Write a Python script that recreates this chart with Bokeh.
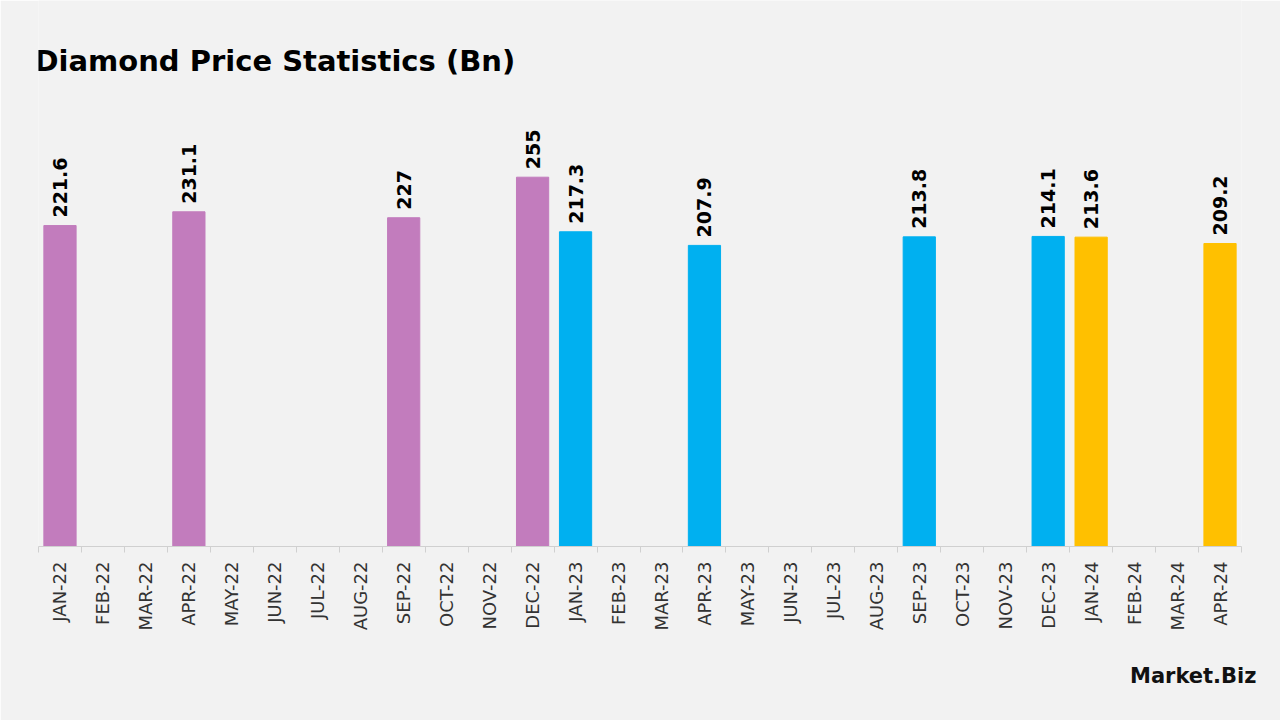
import math
from bokeh.plotting import figure
from bokeh.models import ColumnDataSource, FixedTicker, Range1d, Label, LabelSet, Title
from bokeh.core.properties import value
from bokeh.embed import file_html
from bokeh.resources import INLINE

months = ["JAN-22", "FEB-22", "MAR-22", "APR-22", "MAY-22", "JUN-22", "JUL-22", "AUG-22",
          "SEP-22", "OCT-22", "NOV-22", "DEC-22", "JAN-23", "FEB-23", "MAR-23", "APR-23",
          "MAY-23", "JUN-23", "JUL-23", "AUG-23", "SEP-23", "OCT-23", "NOV-23", "DEC-23",
          "JAN-24", "FEB-24", "MAR-24", "APR-24"]
bar_months = ["JAN-22", "APR-22", "SEP-22", "DEC-22", "JAN-23", "APR-23", "SEP-23",
              "DEC-23", "JAN-24", "APR-24"]
bar_values = [221.6, 231.1, 227, 255, 217.3, 207.9, 213.8, 214.1, 213.6, 209.2]
bar_years = ["2022", "2022", "2022", "2022", "2023", "2023", "2023", "2023", "2024", "2024"]
year_colors = {"2022": "#C27CBD", "2023": "#00B0F0", "2024": "#FFC000"}

BG = "#F2F2F2"

xs = [months.index(m) + 0.5 for m in bar_months]
src = ColumnDataSource(dict(
    x=xs,
    top=bar_values,
    color=[year_colors[y] for y in bar_years],
    label=[("%g" % v) for v in bar_values],
))

p = figure(width=1280, height=720, output_backend="svg", toolbar_location=None,
           x_range=Range1d(0, len(months)), y_range=Range1d(0, 377),
           min_border_left=38, min_border_right=39, min_border_top=0, min_border_bottom=174,
           background_fill_color=BG, border_fill_color=BG, outline_line_color=None)

p.vbar(x="x", top="top", bottom=0, width=0.75, color="color", source=src)

labels = LabelSet(x="x", y="top", text="label", source=src, angle=math.pi / 2,
                  text_align="left", text_baseline="middle", y_offset=8,
                  text_font=value("DejaVu Sans"), text_font_style="bold",
                  text_font_size="19px", text_color="#000000")
p.add_layout(labels)

p.yaxis.visible = False
p.xgrid.visible = False
p.ygrid.visible = False

centers = [i + 0.5 for i in range(len(months))]
bounds = [float(i) for i in range(len(months) + 1)]
p.xaxis.ticker = FixedTicker(ticks=centers, minor_ticks=bounds)
p.xaxis.major_label_overrides = {c: m for c, m in zip(centers, months)}
p.xaxis.major_label_orientation = math.pi / 2
p.xaxis.major_tick_line_color = None
p.xaxis.major_tick_out = 0
p.xaxis.major_tick_in = 0
p.xaxis.minor_tick_out = 6
p.xaxis.minor_tick_in = 0
p.xaxis.minor_tick_line_color = "#D0D0D0"
p.xaxis.axis_line_color = "#D0D0D0"
p.xaxis.major_label_standoff = 9
p.xaxis.major_label_text_font = "DejaVu Sans"
p.xaxis.major_label_text_font_size = "18px"
p.xaxis.major_label_text_color = "#333333"

title = Label(x=-4, y=486, x_units="screen", y_units="screen",
              text="Diamond Price Statistics (Bn)", text_font="DejaVu Sans",
              text_font_style="bold", text_font_size="29px", text_color="#000000",
              text_baseline="alphabetic", text_align="left")
p.add_layout(title)

logo = Title(text="Market.Biz", align="right", offset=-15, standoff=57,
             text_font="DejaVu Sans", text_font_style="bold", text_font_size="21px",
             text_color="#111111")
p.add_layout(logo, "below")

open("out.html", "w").write(file_html(p, INLINE))
